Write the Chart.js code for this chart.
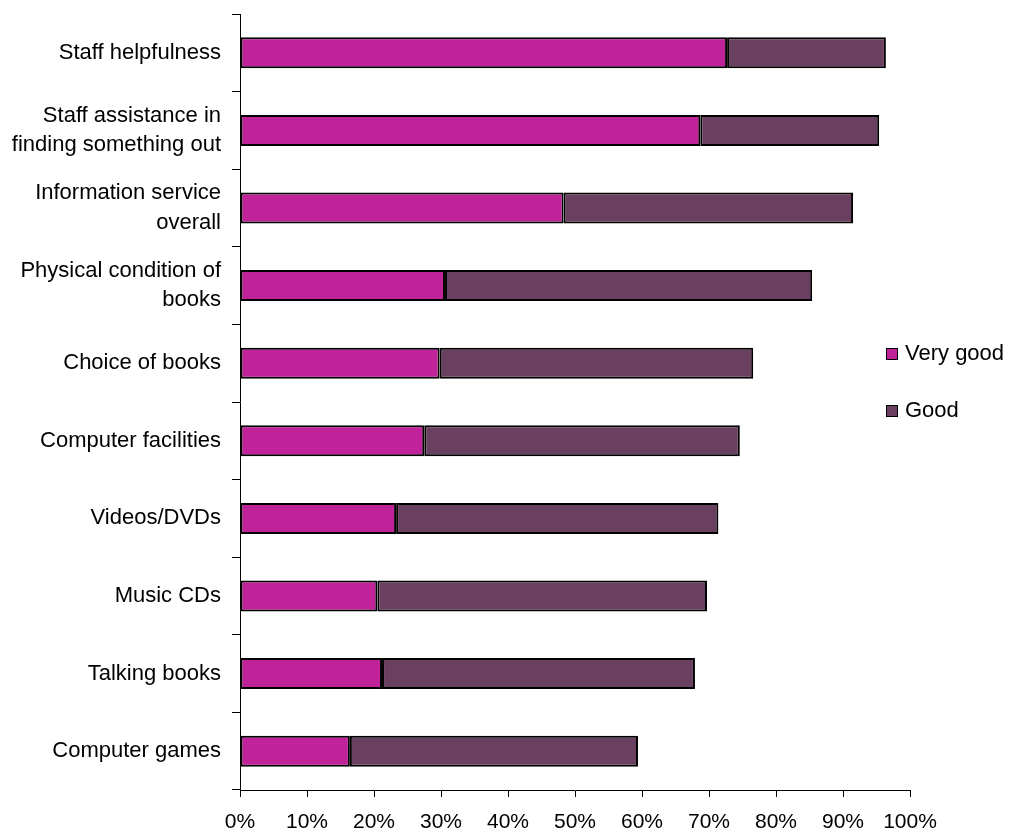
<!DOCTYPE html>
<html>
<head>
<meta charset="utf-8">
<title>Library services rating</title>
<script src="https://cdn.jsdelivr.net/npm/chart.js@4"></script>
<style>
    html, body { margin: 0; padding: 0; background: #fff; }
    #wrap { width: 1022px; height: 834px; }
</style>
</head>
<body>
<div id="wrap"><canvas id="grafico"></canvas></div>
<script>
// Dados do gráfico
const categorias = [
    "Staff helpfulness",
    ["Staff assistance in", "finding something out"],
    ["Information service", "overall"],
    ["Physical condition of", "books"],
    "Choice of books",
    "Computer facilities",
    "Videos/DVDs",
    "Music CDs",
    "Talking books",
    "Computer games"
];
const muitoBom = [72.7, 68.7, 48.3, 30.6, 29.8, 27.5, 23.3, 20.5, 21.2, 16.4];
const bom = [23.7, 26.7, 43.2, 54.8, 46.8, 47.1, 48.1, 49.2, 46.7, 43.0];
const nomesSeries = ["Very good", "Good"];
const ticksX = [0, 10, 20, 30, 40, 50, 60, 70, 80, 90, 100];

const cores = ["#C0229A", "#694060"];
const fonte = "'Liberation Sans', Arial, sans-serif";

document.addEventListener("DOMContentLoaded", function () {
    // Legenda desenhada à mão, à direita do gráfico
    const legenda = {
        id: "legendaManual",
        afterDraw(chart) {
            const ctx = chart.ctx;
            ctx.save();
            ctx.font = "22px " + fonte;
            ctx.textBaseline = "middle";
            chart.data.datasets.forEach(function (ds, i) {
                const y = 354 + i * 57;
                ctx.fillStyle = ds.backgroundColor;
                ctx.fillRect(886, y - 6, 11, 11);
                ctx.strokeStyle = "#000";
                ctx.lineWidth = 1;
                ctx.strokeRect(886.5, y - 5.5, 11, 11);
                ctx.fillStyle = "#000";
                ctx.fillText(ds.label, 905, y);
            });
            ctx.restore();
        }
    };

    const ctx = document.getElementById("grafico").getContext("2d");
    new Chart(ctx, {
        type: "bar",
        data: {
            labels: categorias,
            datasets: [
                { label: nomesSeries[0], data: muitoBom, backgroundColor: cores[0] },
                { label: nomesSeries[1], data: bom, backgroundColor: cores[1] }
            ].map(function (ds) {
                return Object.assign(ds, {
                    borderColor: "#000",
                    borderWidth: 2,
                    borderSkipped: false,
                    barPercentage: 0.4,
                    categoryPercentage: 1
                });
            })
        },
        options: {
            indexAxis: "y",
            responsive: true,
            maintainAspectRatio: false,
            animation: false,
            layout: { padding: { left: 0, right: 112, top: 14, bottom: 0 } },
            plugins: {
                legend: { display: false },
                tooltip: { enabled: false }
            },
            scales: {
                x: {
                    stacked: true,
                    min: 0,
                    max: 100,
                    afterBuildTicks: function (scale) {
                        scale.ticks = ticksX.map(function (v) { return { value: v }; });
                    },
                    afterFit: function (scale) { scale.height = 44; },
                    ticks: {
                        callback: function (v) { return v + "%"; },
                        color: "#000",
                        padding: 13,
                        maxRotation: 0,
                        font: { family: fonte, size: 21 }
                    },
                    grid: {
                        drawOnChartArea: false,
                        color: "#000",
                        tickLength: 7
                    },
                    border: { color: "#000", width: 1 }
                },
                y: {
                    stacked: true,
                    afterFit: function (scale) {
                        scale.width = 240;
                        // sem folga extra em cima/baixo por causa dos rótulos
                        scale.paddingTop = 0;
                        scale.paddingBottom = 0;
                    },
                    ticks: {
                        color: "#000",
                        padding: 11,
                        font: { family: fonte, size: 22, lineHeight: 1.33 }
                    },
                    grid: {
                        offset: true,
                        drawOnChartArea: false,
                        color: "#000",
                        tickLength: 8
                    },
                    border: { color: "#000", width: 1 }
                }
            }
        },
        plugins: [legenda]
    });
});
</script>
</body>
</html>
